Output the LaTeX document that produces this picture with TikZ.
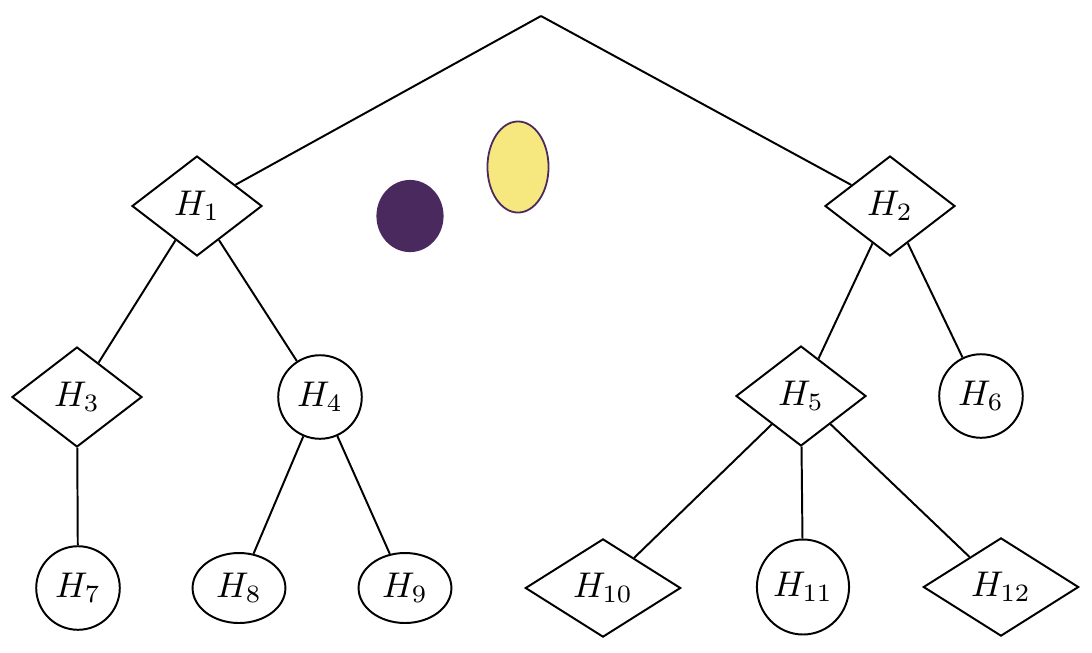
\documentclass[tikz,border=0pt]{standalone}
\usetikzlibrary{shapes.geometric}
\definecolor{darkpurple}{HTML}{4A2A5E}
\definecolor{softyellow}{HTML}{F7E77F}
\begin{document}
\begin{tikzpicture}[x=0.28pt,y=-0.28pt,
  every path/.style={line width=0.55pt},
  dnode/.style={draw,diamond,aspect=1.3,inner sep=0pt,minimum width=36.4pt,minimum height=28pt},
  wdnode/.style={draw,diamond,aspect=1.6,inner sep=0pt,minimum width=43.5pt,minimum height=27.5pt},
  cnode/.style={draw,circle,inner sep=0pt,minimum size=23.4pt},
  enode/.style={draw,ellipse,inner sep=0pt,minimum width=26pt,minimum height=19.6pt},
  bignode/.style={draw,ellipse,inner sep=0pt,minimum width=25.8pt,minimum height=26.6pt}]
\useasboundingbox (0,0) rectangle (1092,652);
\coordinate (top) at (541,16);
\node[dnode] (h1) at (197,206) {$H_1$};
\node[dnode] (h2) at (890,206) {$H_2$};
\node[dnode] (h3) at (77,397) {$H_3$};
\node[cnode] (h4) at (320,397) {$H_4$};
\node[dnode] (h5) at (801,396) {$H_5$};
\node[cnode] (h6) at (981,396) {$H_6$};
\node[cnode] (h7) at (78,588) {$H_7$};
\node[enode] (h8) at (239,588) {$H_8$};
\node[enode] (h9) at (405,588) {$H_9$};
\node[wdnode] (h10) at (603,588) {$H_{10}$};
\node[bignode] (h11) at (803,587) {$H_{11}$};
\node[wdnode] (h12) at (1001,587) {$H_{12}$};
\node[ellipse,fill=darkpurple,inner sep=0pt,minimum width=18.8pt,minimum height=20.2pt] (dot1) at (410,216) {};
\node[ellipse,draw=darkpurple,line width=0.5pt,fill=softyellow,inner sep=0pt,minimum width=17.1pt,minimum height=25.5pt] (dot2) at (518,167) {};
\draw (top) -- (h1);
\draw (top) -- (h2);
\draw (h1) -- (h3);
\draw (h1) -- (h4);
\draw (h3) -- (h7);
\draw (h4) -- (h8);
\draw (h4) -- (h9);
\draw (h2) -- (h5);
\draw (h2) -- (h6);
\draw (h5) -- (h10);
\draw (h5) -- (h11);
\draw (h5) -- (h12);
\end{tikzpicture}
\end{document}
